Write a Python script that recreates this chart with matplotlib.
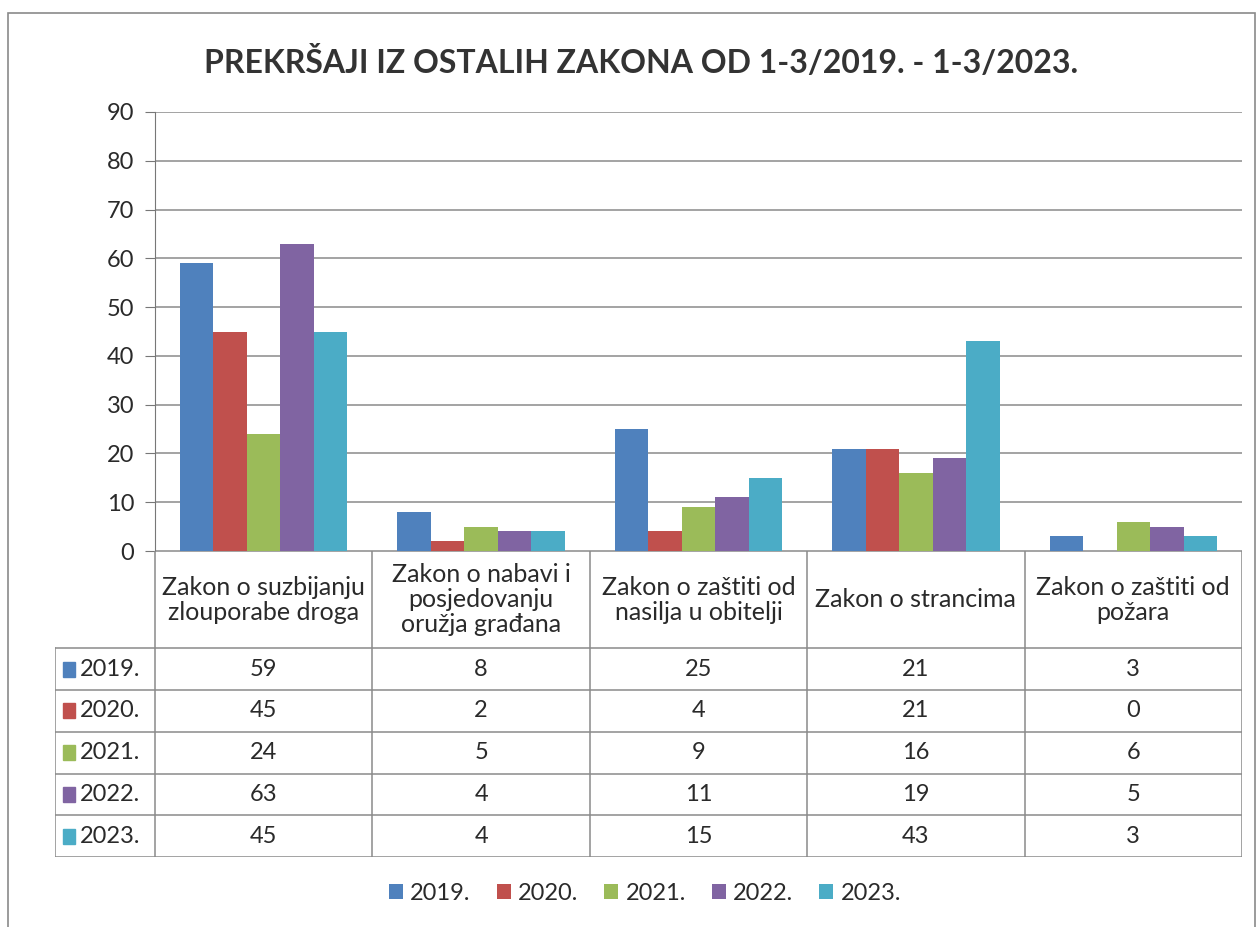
import numpy as np
import matplotlib.pyplot as plt
from matplotlib.patches import Rectangle

plt.rcParams['font.family'] = ['Lato', 'DejaVu Sans']

categories = ['Zakon o suzbijanju\nzlouporabe droga',
              'Zakon o nabavi i\nposjedovanju\noružja građana',
              'Zakon o zaštiti od\nnasilja u obitelji',
              'Zakon o strancima',
              'Zakon o zaštiti od\npožara']
years = ['2019.', '2020.', '2021.', '2022.', '2023.']
v2019 = [59, 8, 25, 21, 3]
v2020 = [45, 2, 4, 21, 0]
v2021 = [24, 5, 9, 16, 6]
v2022 = [63, 4, 11, 19, 5]
v2023 = [45, 4, 15, 43, 3]
series = [v2019, v2020, v2021, v2022, v2023]
colors = ['#4F81BD', '#C0504D', '#9BBB59', '#8064A2', '#4BACC6']

W, H = 1260, 927
fig = plt.figure(figsize=(W / 100, H / 100), dpi=100)

# outer chart frame
fig.patches.append(Rectangle((8 / W, -0.01), 1247 / W, 1 - 13 / H + 0.01,
                             transform=fig.transFigure, fill=False,
                             edgecolor='#8a8a8a', linewidth=1.2))

# plot area in pixels
x0, x1 = 155, 1242
y_top, y_zero, y_tab = 112, 551, 857
ax = fig.add_axes([x0 / W, 1 - y_zero / H, (x1 - x0) / W, (y_zero - y_top) / H])

x = np.arange(len(categories))
bw = 0.154
for i, (vals, c) in enumerate(zip(series, colors)):
    ax.bar(x + (i - 2) * bw, vals, width=bw, color=c, label=years[i], zorder=3)

ax.set_xlim(-0.5, len(categories) - 0.5)
ax.set_ylim(0, 90)
ax.set_yticks(np.arange(0, 91, 10))
ax.tick_params(axis='y', labelsize=17, length=7, color='#777777', pad=8, labelcolor='#2a2a2a')
ax.set_xticks([])
ax.grid(axis='y', color='#8a8a8a', linewidth=1.1, zorder=0)
for s in ['top', 'right', 'bottom']:
    ax.spines[s].set_visible(False)
ax.spines['left'].set_color('#777777')

fig.text(641 / W, 1 - 62 / H, 'PREKRŠAJI IZ OSTALIH ZAKONA OD 1-3/2019. - 1-3/2023.',
         ha='center', va='center', fontsize=23, fontweight='bold', color='#333333')

# data table below the axis
lab_w = (x0 - 55) / ((x1 - x0) / len(categories))
head_h = 2.33
tab = fig.add_axes([55 / W, 1 - y_tab / H, (x1 - 55) / W, (y_tab - y_zero) / H])
tab.set_xlim(-0.5 - lab_w, len(categories) - 0.5)
tab.set_ylim(head_h + len(years), 0)
tab.axis('off')
lc = '#8a8a8a'
lw = 1.1
# horizontal lines
tab.plot([-0.5, len(categories) - 0.5], [0, 0], color=lc, lw=lw)
for r in range(len(years) + 1):
    tab.plot([-0.5 - lab_w, len(categories) - 0.5], [head_h + r, head_h + r], color=lc, lw=lw)
# vertical lines
for k in range(len(categories) + 1):
    tab.plot([k - 0.5, k - 0.5], [0, head_h + len(years)], color=lc, lw=lw)
tab.plot([-0.5 - lab_w, -0.5 - lab_w], [head_h, head_h + len(years)], color=lc, lw=lw)

for k, cat in enumerate(categories):
    tab.text(k, head_h / 2, cat, ha='center', va='center', fontsize=18,
             color='#2a2a2a', linespacing=1.1)
for r, (yr, vals, c) in enumerate(zip(years, series, colors)):
    yc = head_h + r + 0.5
    tab.add_patch(Rectangle((-0.5 - lab_w + 0.035, yc - 0.18), 0.055, 0.36,
                            color=c, transform=tab.transData))
    tab.text(-0.5 - lab_w + 0.115, yc, yr, ha='left', va='center', fontsize=17, color='#2a2a2a')
    for k, v in enumerate(vals):
        tab.text(k, yc, str(v), ha='center', va='center', fontsize=17, color='#2a2a2a')

h, l = ax.get_legend_handles_labels()
fig.legend(h, l, loc='center', bbox_to_anchor=(645 / W, 1 - 893 / H), ncol=5,
           frameon=False, fontsize=17, handlelength=0.6, handleheight=0.6,
           handletextpad=0.3, columnspacing=1.1, labelcolor='#2a2a2a')

fig.savefig('out.png', dpi=100, facecolor='white')
